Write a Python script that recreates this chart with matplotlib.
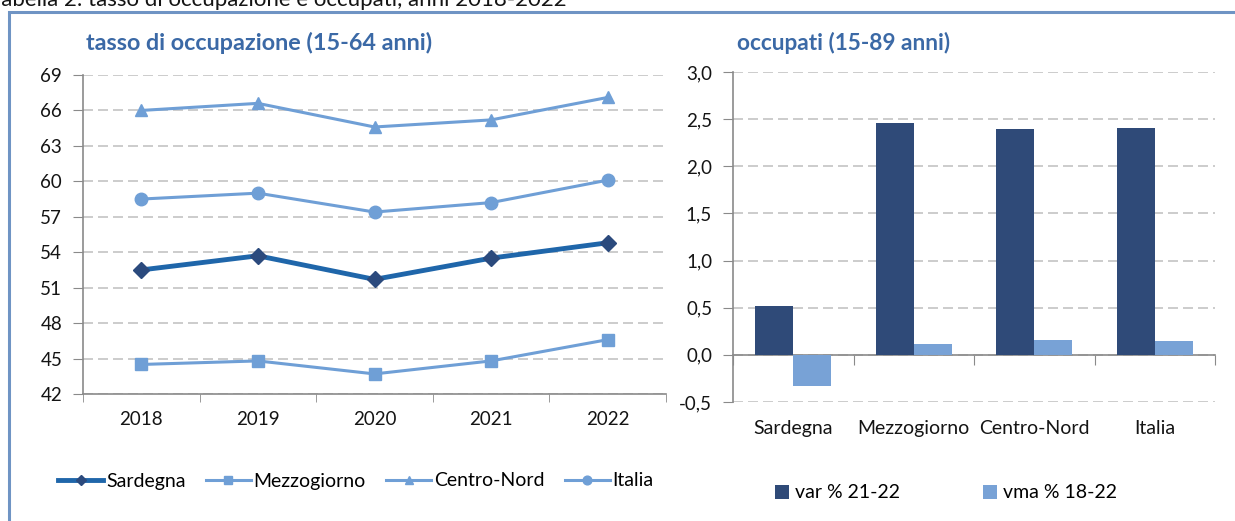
import numpy as np
import matplotlib
matplotlib.use('Agg')
import matplotlib.pyplot as plt
from matplotlib.patches import Rectangle

plt.rcParams['font.family'] = ['Lato', 'DejaVu Sans']

# dati: tasso di occupazione (15-64 anni)
anni = ['2018', '2019', '2020', '2021', '2022']
sardegna = [52.5, 53.7, 51.7, 53.5, 54.8]
mezzogiorno = [44.5, 44.8, 43.7, 44.8, 46.6]
centro_nord = [66.0, 66.6, 64.6, 65.2, 67.1]
italia = [58.5, 59.0, 57.4, 58.2, 60.1]

# dati: occupati (15-89 anni)
aree = ['Sardegna', 'Mezzogiorno', 'Centro-Nord', 'Italia']
var_21_22 = [0.52, 2.46, 2.40, 2.41]
vma_18_22 = [-0.33, 0.12, 0.16, 0.15]

text_col = '#141414'
title_col = '#3b69a6'
grid_col = '#c4c4c4'
axis_col = '#8a8a8a'
light_blue = '#6f9fd6'

fig = plt.figure(figsize=(12.35, 5.21), dpi=100)

# cornice e didascalia tagliata
fig.patches.append(Rectangle((9 / 1235, -0.1), 1.2, 1.1 - 12 / 521, transform=fig.transFigure,
                             fill=False, edgecolor='#6f94c4', linewidth=2.2))
fig.text(-12 / 1235, 1 - 6 / 521, 'Tabella 2: tasso di occupazione e occupati, anni 2018-2022',
         fontsize=16, color=text_col, va='baseline', ha='left')

# --- grafico a linee ---
ax1 = fig.add_axes([83 / 1235, 1 - 394 / 521, 583 / 1235, 319 / 521])
x = np.arange(len(anni))
ax1.plot(x, mezzogiorno, color=light_blue, lw=2.2, marker='s', ms=8, label='Mezzogiorno')
ax1.plot(x, centro_nord, color=light_blue, lw=2.2, marker='^', ms=8, label='Centro-Nord')
ax1.plot(x, italia, color=light_blue, lw=2.2, marker='o', ms=9, label='Italia')
ax1.plot(x, sardegna, color='#1f66aa', lw=3.5, marker='D', ms=8, mfc='#2b4a7d', mec='#2b4a7d',
         label='Sardegna', zorder=5)
ax1.set_xlim(-0.5, 4.5)
ax1.set_ylim(42, 69)
ax1.set_yticks(np.arange(42, 70, 3))
ax1.set_xticks(x)
ax1.set_xticklabels(anni)
ax1.set_xticks(np.arange(-0.5, 5, 1), minor=True)
ax1.tick_params(axis='x', which='major', length=0, pad=12, labelsize=13.5, labelcolor=text_col)
ax1.tick_params(axis='x', which='minor', length=6, color=axis_col, direction='out')
ax1.tick_params(axis='y', length=7, color=axis_col, pad=8, labelsize=13.5, labelcolor=text_col)
ax1.yaxis.grid(True, color=grid_col, linestyle=(0, (6, 3)), lw=1.2)
ax1.set_axisbelow(True)
for s in ['top', 'right']:
    ax1.spines[s].set_visible(False)
for s in ['left', 'bottom']:
    ax1.spines[s].set_color(axis_col)
    ax1.spines[s].set_linewidth(1.2)
h, l = ax1.get_legend_handles_labels()
order = [3, 0, 1, 2]
fig.legend([h[i] for i in order], [l[i] for i in order], loc='center', ncol=4,
           bbox_to_anchor=(356 / 1235, 1 - 481 / 521), frameon=False, fontsize=14,
           handlelength=2.3, handletextpad=0.15, columnspacing=1.05, markerscale=0.7)
fig.text(86 / 1235, 1 - 50 / 521, 'tasso di occupazione (15-64 anni)', fontsize=16.8,
         fontweight='bold', color=title_col, va='baseline')

# --- grafico a barre ---
ax2 = fig.add_axes([733 / 1235, 1 - 402 / 521, 482 / 1235, 330 / 521])
xc = np.arange(len(aree))
bw = 0.315
ax2.bar(xc - bw / 2, var_21_22, bw, color='#2f4a78', label='var % 21-22', zorder=3)
ax2.bar(xc + bw / 2, vma_18_22, bw, color='#78a2d6', label='vma % 18-22', zorder=3)
ax2.set_xlim(-0.5, 3.5)
ax2.set_ylim(-0.5, 3.0)
yt = np.arange(-0.5, 3.01, 0.5)
ax2.set_yticks(yt)
ax2.set_yticklabels([('%.1f' % v).replace('.', ',') for v in yt])
ax2.set_xticks(np.arange(-0.5, 4, 1))
ax2.set_xticklabels([])
ax2.tick_params(axis='x', length=7, color=axis_col, direction='out')
ax2.tick_params(axis='y', length=7, color=axis_col, pad=8, labelsize=13.5, labelcolor=text_col)
ax2.yaxis.grid(True, color=grid_col, linestyle=(0, (6, 3)), lw=1.2)
ax2.set_axisbelow(True)
ax2.spines['bottom'].set_position(('data', 0))
for s in ['top', 'right']:
    ax2.spines[s].set_visible(False)
for s in ['left', 'bottom']:
    ax2.spines[s].set_color(axis_col)
    ax2.spines[s].set_linewidth(1.2)
for i, a in enumerate(aree):
    ax2.text(i, -0.08, a, transform=ax2.get_xaxis_transform(), ha='center', va='center',
             fontsize=14, color=text_col)
fig.legend(*ax2.get_legend_handles_labels(), loc='center', ncol=2,
           bbox_to_anchor=(946 / 1235, 1 - 493 / 521), frameon=False, fontsize=14,
           handlelength=0.7, handleheight=0.7, handletextpad=0.3, columnspacing=4.3)
fig.text(737 / 1235, 1 - 50 / 521, 'occupati (15-89 anni)', fontsize=16.3,
         fontweight='bold', color=title_col, va='baseline')

plt.savefig('out.png', dpi=100)
